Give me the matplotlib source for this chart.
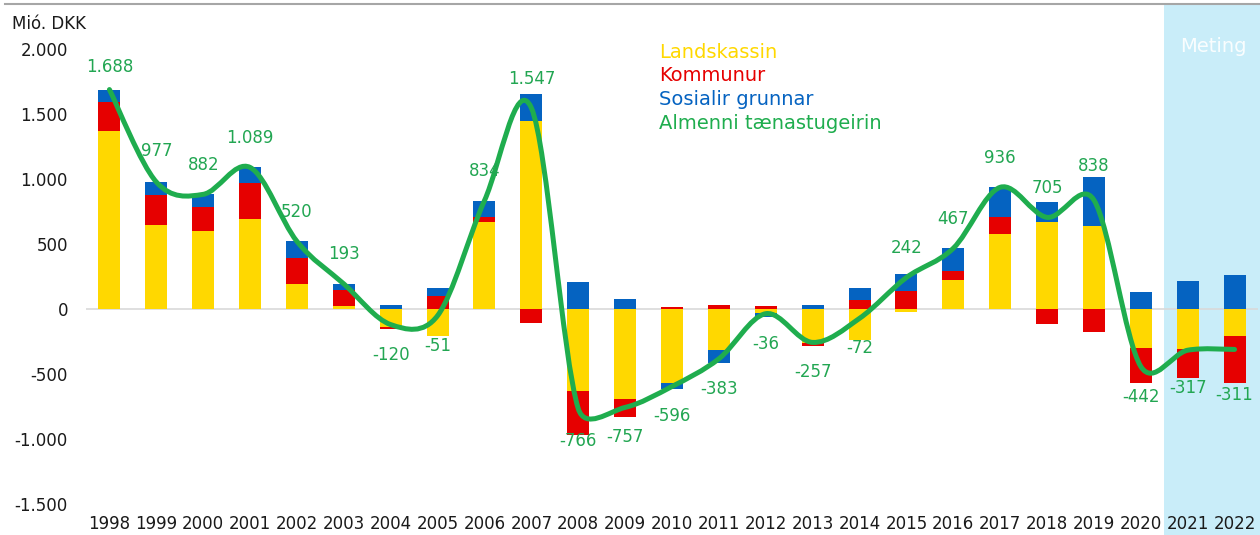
import matplotlib
matplotlib.use("Agg")
import matplotlib.pyplot as plt
from matplotlib.path import Path
from matplotlib.patches import PathPatch, Rectangle
import matplotlib.transforms as mtransforms
import numpy as np

plt.rcParams['font.family'] = ['DejaVu Sans']

years = [str(y) for y in range(1998, 2023)]
landskassin = [1370, 645, 597, 692, 190, 20, -142, -210, 671, 1447, -631, -692, -573, -316, -32,
               -258, -237, -26, 224, 579, 670, 642, -302, -308, -205]
kommunur = [220, 230, 185, 280, 205, 130, -8, 97, 34, -105, -340, -142, 18, 34, 24,
            -26, 71, 137, 65, 129, -118, -174, -269, -226, -368]
sosialir = [98, 102, 100, 117, 125, 43, 30, 62, 129, 205, 205, 77, -41, -101, -28,
            27, 94, 131, 178, 228, 153, 370, 129, 217, 262]
almenni = [1688, 977, 882, 1089, 520, 193, -120, -51, 834, 1547, -766, -757, -596, -383, -36,
           -257, -72, 242, 467, 936, 705, 838, -442, -317, -311]
yticks = [-1500, -1000, -500, 0, 500, 1000, 1500, 2000]
ytick_labels = ["-1.500", "-1.000", "-500", "0", "500", "1.000", "1.500", "2.000"]
series_names = ["Landskassin", "Kommunur", "Sosialir grunnar", "Almenni tænastugeirin"]

# label vertical offsets in pixels (styling)
label_dy = [23, 31, 29, 29, 29, 30, -30, -30, 30, 29, -32, -30, -30, -30, -30,
            -30, -30, 30, 29, 29, 29, 34, -31, -38, -46]

YEL, RED, BLU, GRN = '#FFD800', '#E60000', '#0563C1', '#1FAD4E'
LBL_GRN = '#22A652'

W, H = 1260, 535
fig = plt.figure(figsize=(W / 100, H / 100), dpi=100)
ax = fig.add_axes([86 / W, (H - 504) / H, (1258 - 86) / W, (504 - 49) / H])
ax.patch.set_visible(False)

x = np.arange(len(years))
ax.set_xlim(-0.5, len(years) - 0.5)
ax.set_ylim(-1500, 2000)

# forecast shading (2021-2022)
trans = mtransforms.blended_transform_factory(ax.transData, fig.transFigure)
ax.add_patch(Rectangle((len(years) - 2.5, 0), 2.5, (H - 5) / H, transform=trans,
                       facecolor='#C9EDF9', edgecolor='none', zorder=0, clip_on=False))
ax.text(len(years) - 1.45, 2000 + 20, "Meting", color='white', fontsize=14,
        ha='center', va='center', zorder=1, alpha=0.9)

ax.axhline(0, color='#D9D9D9', lw=1.2, zorder=1)

# stacked bars with separate positive / negative stacking
pos_base = np.zeros(len(years))
neg_base = np.zeros(len(years))
for vals, col in [(landskassin, YEL), (kommunur, RED), (sosialir, BLU)]:
    v = np.array(vals, dtype=float)
    base = np.where(v >= 0, pos_base, neg_base)
    ax.bar(x, v, bottom=base, width=0.47, color=col, zorder=2, linewidth=0)
    pos_base = pos_base + np.where(v >= 0, v, 0)
    neg_base = neg_base + np.where(v < 0, v, 0)

# smoothed line (Excel-style Bezier through the data points, computed in screen space)
fig.canvas.draw()
pts_disp = ax.transData.transform(np.column_stack([x, np.array(almenni, dtype=float)]))
n = len(pts_disp)
def P(i):
    return pts_disp[min(max(i, 0), n - 1)]
def dist(a, b):
    return float(np.hypot(*(a - b)))
verts = [tuple(P(0))]
codes = [Path.MOVETO]
for i in range(n - 1):
    p0, p1, p2, p3 = P(i - 1), P(i), P(i + 1), P(i + 2)
    d12 = dist(p1, p2)
    d02 = dist(p0, p2)
    d13 = dist(p1, p3)
    f1 = 1 / 6 if d02 / 6 < d12 / 2 else (d12 / (2 * d02) if d02 > 0 else 0)
    f2 = 1 / 6 if d13 / 6 < d12 / 2 else (d12 / (2 * d13) if d13 > 0 else 0)
    c1 = p1 + (p2 - p0) * f1
    c2 = p2 - (p3 - p1) * f2
    verts += [tuple(c1), tuple(c2), tuple(p2)]
    codes += [Path.CURVE4] * 3
verts_data = ax.transData.inverted().transform(np.array(verts))
ax.add_patch(PathPatch(Path(verts_data, codes), facecolor='none', edgecolor=GRN,
                       lw=3.6, zorder=3, capstyle='round', joinstyle='round'))

for i, v in enumerate(almenni):
    s = f"{v:,}".replace(",", ".")
    ax.annotate(s, (x[i], v), xytext=(0, label_dy[i] * 0.72), textcoords='offset points',
                ha='center', va='center', color=LBL_GRN, fontsize=12, zorder=4)

# legend as coloured text
for k, (name, col) in enumerate(zip(series_names, [YEL, RED, BLU, GRN])):
    fig.text(659 / W, 1 - (52 + k * 23.7) / H, name, color=col, fontsize=14,
             ha='left', va='center')

ax.set_xticks(x)
ax.set_xticklabels(years, fontsize=12, color='#1a1a1a')
ax.set_yticks(yticks)
ax.set_yticklabels(ytick_labels, fontsize=12, color='#1a1a1a')
ax.tick_params(axis='both', length=0)
ax.tick_params(axis='y', pad=13)
ax.tick_params(axis='x', pad=8)
for sp in ax.spines.values():
    sp.set_visible(False)

fig.text(12 / W, 1 - 24 / H, "Mió. DKK", fontsize=12, color='#1a1a1a', ha='left', va='center')
fig.add_artist(plt.Line2D([5 / W, 1], [1 - 4 / H, 1 - 4 / H], color='#A6A6A6', lw=1.5,
                          transform=fig.transFigure))

fig.savefig("out.png", dpi=100)
